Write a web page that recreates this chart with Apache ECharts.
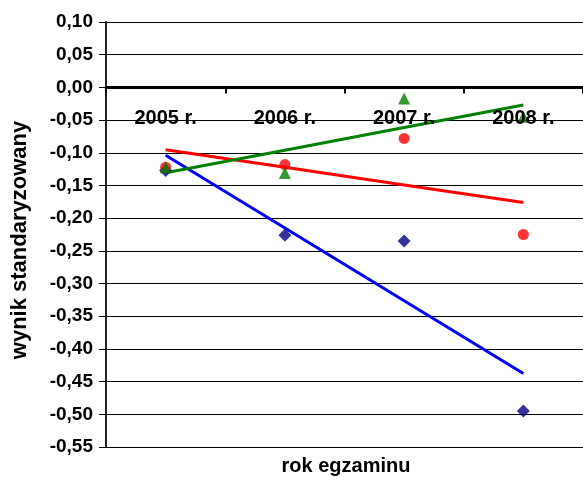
<!DOCTYPE html>
<html>
<head>
<meta charset="utf-8">
<script src="https://cdn.jsdelivr.net/npm/echarts@6/dist/echarts.min.js"></script>
<style>
html,body{margin:0;padding:0;background:#fff;}
#chart{width:583px;height:477px;}
</style>
</head>
<body>
<div id="chart"></div>
<script>
const categories = ['2005 r.', '2006 r.', '2007 r.', '2008 r.'];
const seriesDiamond = [-0.127, -0.226, -0.235, -0.495];
const seriesCircle = [-0.122, -0.118, -0.078, -0.225];
const seriesTriangle = [-0.122, -0.131, -0.017, -0.045];
const yMin = -0.55, yMax = 0.10, yStep = 0.05;
const yAxisTitle = 'wynik standaryzowany';
const xAxisTitle = 'rok egzaminu';

// linear (least squares) trendline through the points, like a spreadsheet trendline
function trend(vals) {
  const n = vals.length;
  const xs = vals.map((_, i) => i + 1);
  const mx = xs.reduce((a, b) => a + b, 0) / n;
  const my = vals.reduce((a, b) => a + b, 0) / n;
  let sxy = 0, sxx = 0;
  for (let i = 0; i < n; i++) { sxy += (xs[i] - mx) * (vals[i] - my); sxx += (xs[i] - mx) * (xs[i] - mx); }
  const b = sxy / sxx, a = my - b * mx;
  return xs.map(x => a + b * x);
}

const W = 583, H = 477;
const gridTop = 22, gridBottom = 30;
const plotH = H - gridTop - gridBottom;
// distance from the bottom of the plot to the zero line
const zeroOffset = plotH * (0 - yMin) / (yMax - yMin);

const font = 'Liberation Sans, Arial, sans-serif';
const chart = echarts.init(document.getElementById('chart'), null, {renderer: 'canvas'});
chart.setOption({
  animation: false,
  backgroundColor: '#ffffff',
  grid: {left: 106, right: -3, top: gridTop, bottom: gridBottom, containLabel: false},
  xAxis: {
    type: 'category',
    data: categories,
    position: 'bottom',
    offset: -zeroOffset,
    z: 10,
    boundaryGap: true,
    axisLine: {onZero: false, lineStyle: {color: '#000', width: 3}},
    axisTick: {show: true, alignWithLabel: false, length: 6, lineStyle: {color: '#000', width: 2}},
    axisLabel: {color: '#000', fontFamily: font, fontWeight: 'bold', fontSize: 20, margin: 21},
    splitLine: {show: false}
  },
  yAxis: {
    type: 'value',
    min: yMin, max: yMax, interval: yStep,
    axisLine: {show: true, lineStyle: {color: '#222', width: 2}},
    axisTick: {show: true, length: 7, lineStyle: {color: '#000', width: 1}},
    axisLabel: {
      color: '#000', fontFamily: font, fontWeight: 'bold', fontSize: 19, margin: 13,
      formatter: v => (Math.round(v * 100) / 100).toFixed(2).replace('.', ',')
    },
    splitLine: {show: true, lineStyle: {color: '#000', width: 1}}
  },
  graphic: [{
    type: 'text', x: 20, y: 240, rotation: Math.PI / 2,
    style: {text: yAxisTitle, fill: '#000', font: 'bold 22px ' + font, align: 'center', verticalAlign: 'middle'}
  }, {
    type: 'text', x: 346, y: 466,
    style: {text: xAxisTitle, fill: '#000', font: 'bold 20px ' + font, align: 'center', verticalAlign: 'middle'}
  }],
  series: [
    {type: 'line', data: trend(seriesDiamond), showSymbol: false, symbol: 'none', lineStyle: {color: '#0000ff', width: 3}, z: 2},
    {type: 'line', data: trend(seriesCircle), showSymbol: false, symbol: 'none', lineStyle: {color: '#ff0000', width: 3}, z: 2},
    {type: 'line', data: trend(seriesTriangle), showSymbol: false, symbol: 'none', lineStyle: {color: '#008000', width: 3}, z: 2},
    {type: 'scatter', data: seriesDiamond, symbol: 'diamond', symbolSize: 13, itemStyle: {color: '#000080'}, z: 3},
    {type: 'scatter', data: seriesCircle, symbol: 'circle', symbolSize: 11, itemStyle: {color: '#ff0000'}, z: 3},
    {type: 'scatter', data: seriesTriangle, symbol: 'triangle', symbolSize: [12, 12], itemStyle: {color: '#008000'}, z: 3}
  ]
});
</script>
</body>
</html>
